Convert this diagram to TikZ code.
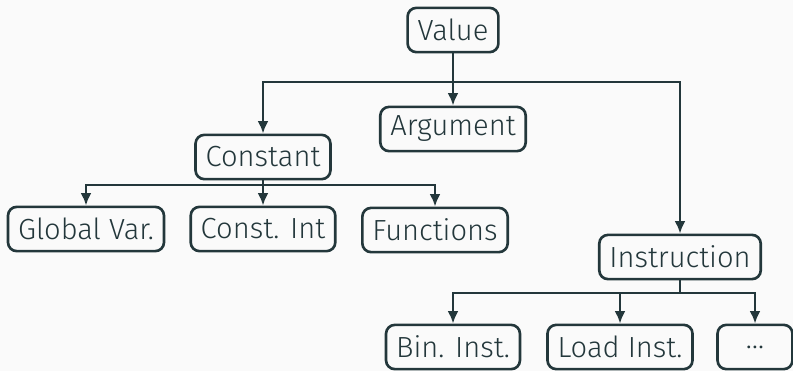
\documentclass[tikz,border=0pt]{standalone}
\usepackage{fontspec}
\setmainfont{Fira Sans Light}
\usetikzlibrary{arrows.meta, positioning}
\definecolor{darkteal}{HTML}{23373B}
\definecolor{bgpaper}{HTML}{FAFAFA}

\begin{document}
\begin{tikzpicture}[
			x=0.014cm, y=-0.014cm,
			line width=1.05pt, color=darkteal,
			box/.style={draw, rounded corners=3.5pt, inner xsep=4pt,
				minimum height=0.62cm, font=\fontsize{11.6}{14}\selectfont},
			arr/.style={-{Latex[length=5pt, width=4.4pt]}}
			]
			\fill[bgpaper] (0,0) rectangle (793,371);
			\useasboundingbox (0,0) rectangle (793,371);
			
			% root
			\node[box] (Value) at (453,30) {Value};
			\node[box] (Argument) at (453,129) {Argument};
			\node[box] (Constant) at (263,157) {Constant};
			\node[box] (Instruction) at (680,257) {Instruction};
			
			% constants
			\node[box] (GlobalVar) at (86,229) {Global Var.};
			\node[box] (ConstInt) at (263,229) {Const. Int};
			\node[box] (Functions) at (435,230) {Functions};
			
			% instructions
			\node[box] (BinInst) at (453,347) {Bin. Inst.};
			\node[box] (LoadInst) at (620,347) {Load Inst.};
			\node[box, minimum width=1.05cm] (More) at (755,347) {\dots};
			
			\coordinate (vsplit) at (453,82);
			\coordinate (csplit) at (263,185);
			\coordinate (isplit) at (680,293);
			
			\draw[arr] (Value) -- (Argument);
			\draw[arr] (Value.south |- vsplit) -| (Constant.north);
			\draw[arr] (Value.south |- vsplit) -| (Instruction.north);
			
			\draw (Constant) -- (csplit);
			\draw[arr] (csplit) -| (GlobalVar.north);
			\draw[arr] (csplit) -- (ConstInt);
			\draw[arr] (csplit) -| (Functions.north);
			
			\draw (Instruction) -- (isplit);
			\draw[arr] (isplit) -| (BinInst.north);
			\draw[arr] (isplit) -| (LoadInst.north);
			\draw[arr] (isplit) -| (More.north);
		\end{tikzpicture}
\end{document}
